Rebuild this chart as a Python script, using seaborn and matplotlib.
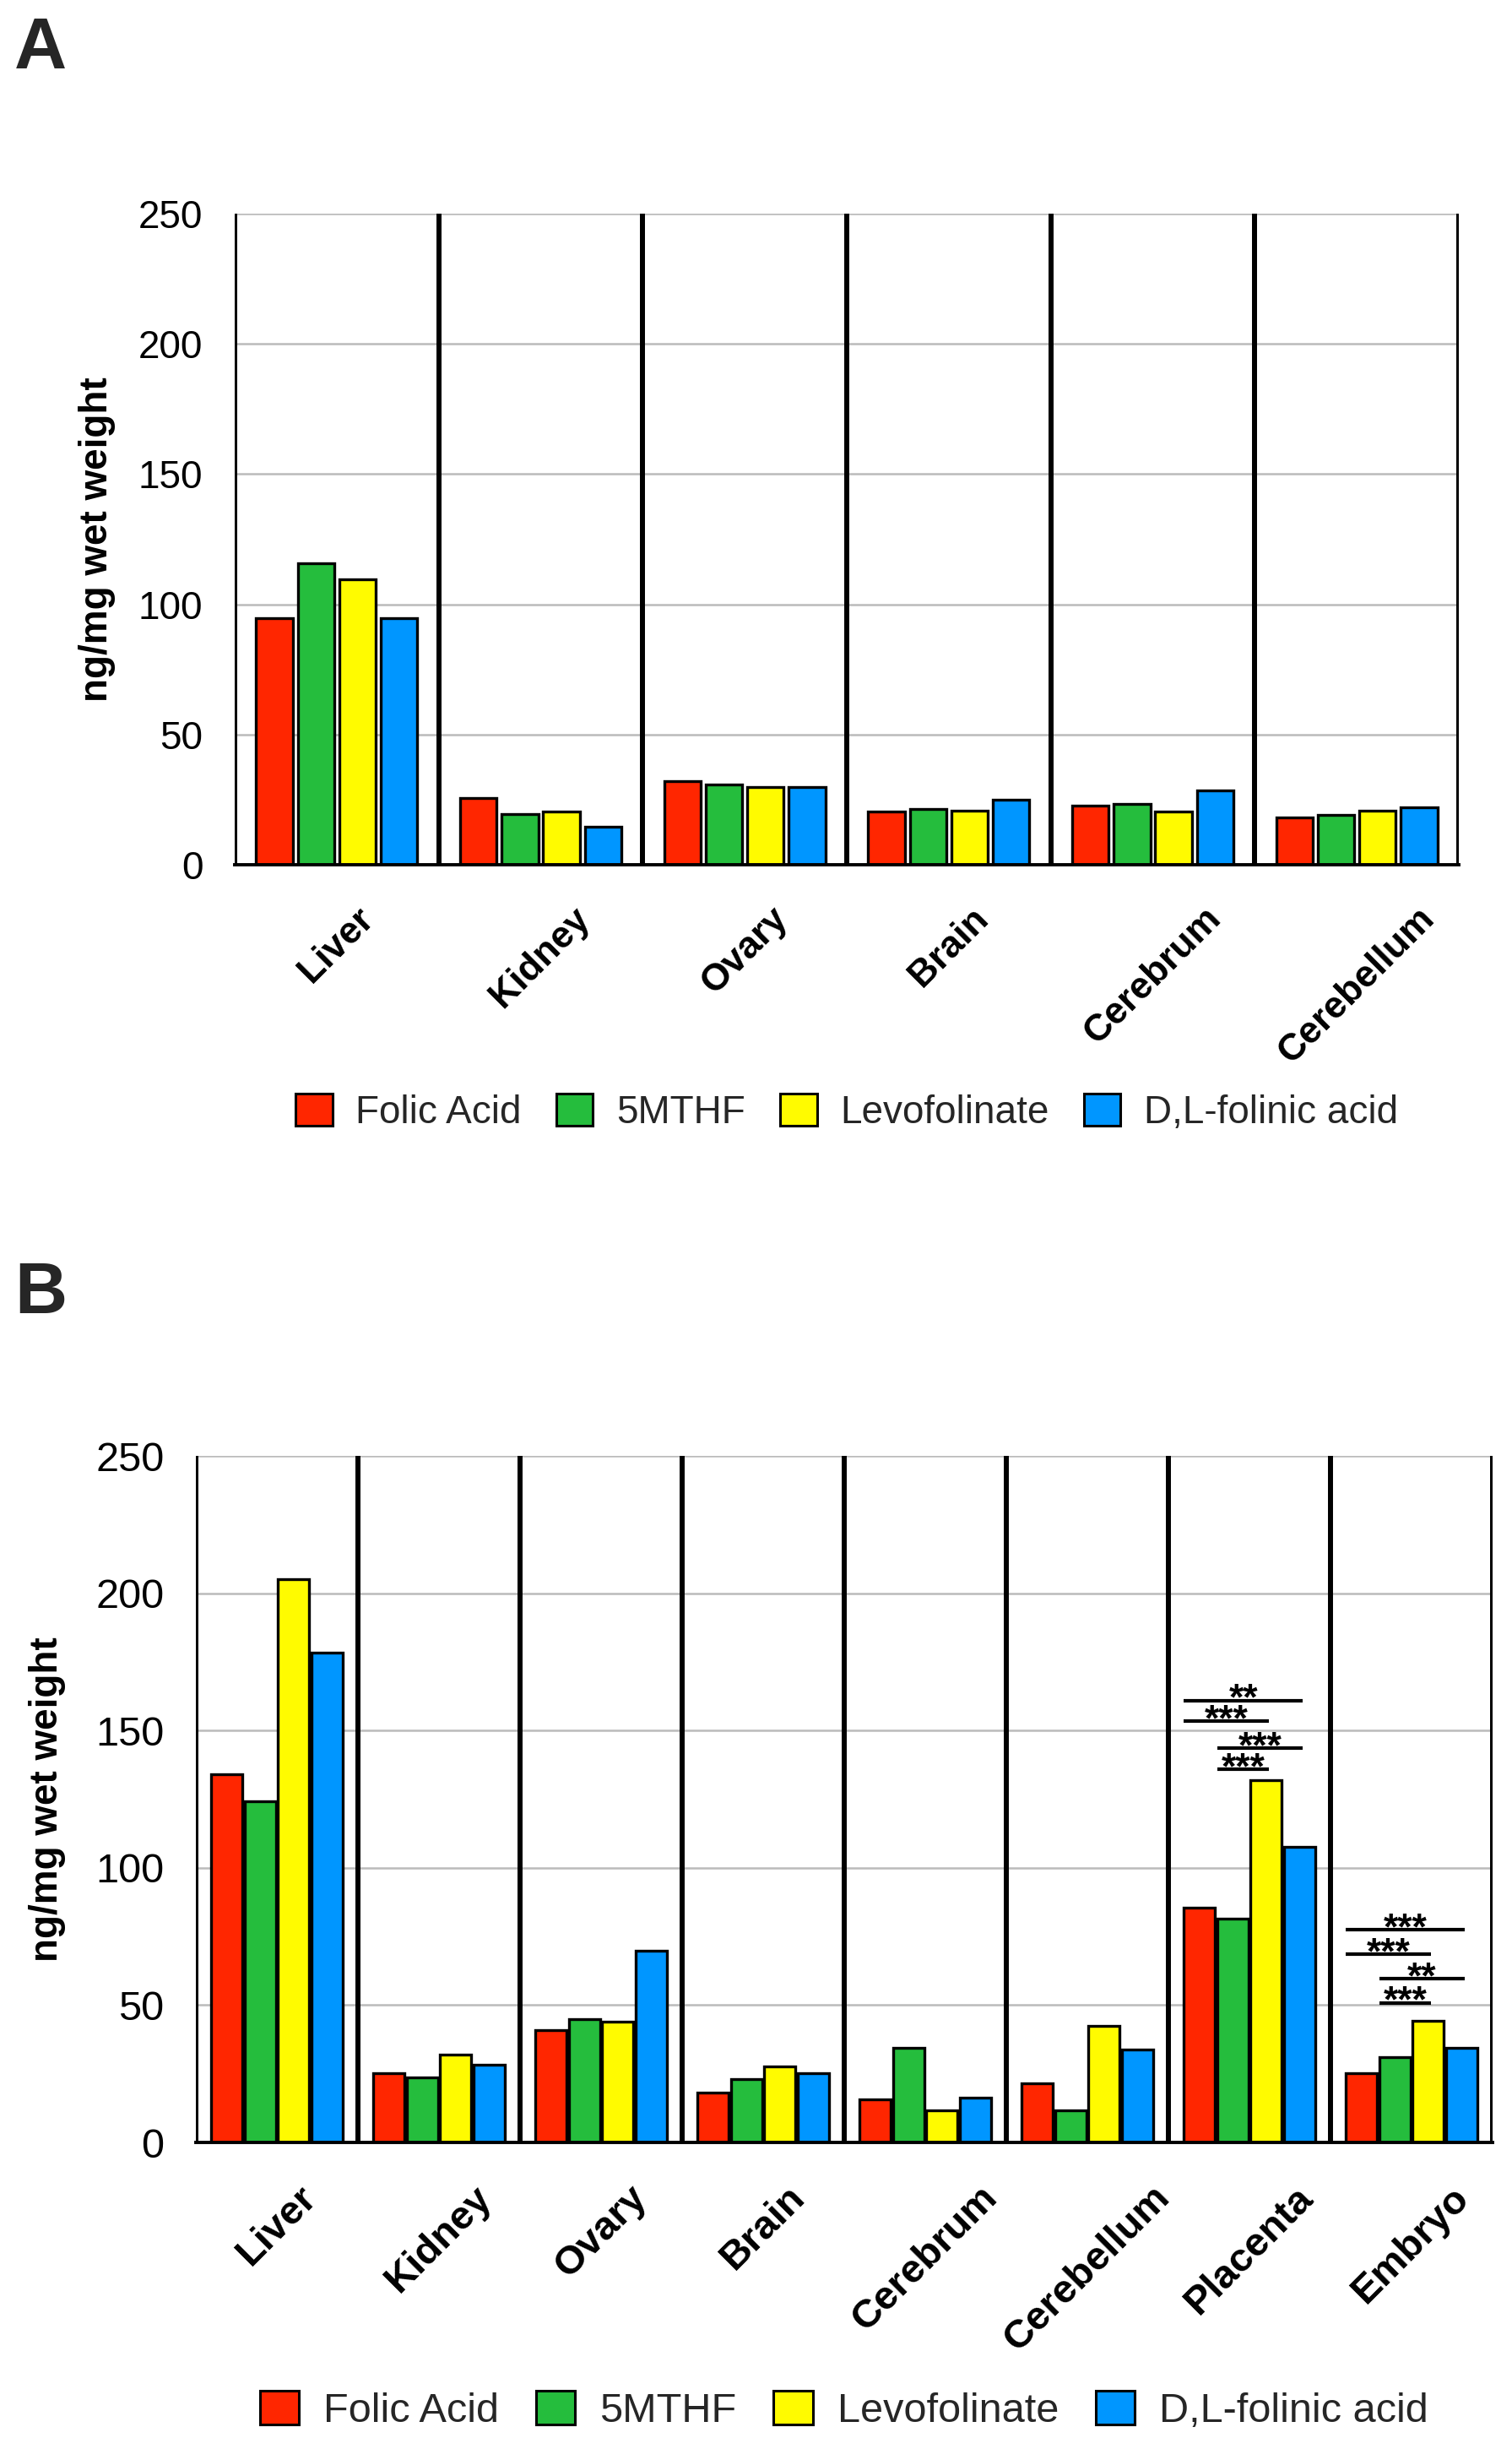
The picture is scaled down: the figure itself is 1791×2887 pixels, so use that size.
import numpy as np
import pandas as pd
import matplotlib
matplotlib.use("Agg")
import matplotlib.pyplot as plt
from matplotlib.patches import Patch
import seaborn as sns

# supplements and colours
supplements = ['Folic Acid', '5MTHF', 'Levofolinate', 'D,L-folinic acid']
colors = ['#FF2600', '#25BD3D', '#FFFB00', '#0096FF']

# panel A: non-pregnant tissues
tissues_a = ['Liver', 'Kidney', 'Ovary', 'Brain', 'Cerebrum', 'Cerebellum']
a_folic = [94.6, 25.6, 32.0, 20.3, 22.6, 18.0]
a_5mthf = [115.6, 19.5, 30.7, 21.4, 23.2, 19.1]
a_levo = [109.7, 20.3, 29.7, 20.9, 20.3, 20.9]
a_dl = [94.6, 14.6, 29.7, 24.9, 28.4, 22.0]

# panel B: pregnant tissues
tissues_b = ['Liver', 'Kidney', 'Ovary', 'Brain', 'Cerebrum', 'Cerebellum', 'Placenta', 'Embryo']
b_folic = [134.0, 25.3, 40.8, 18.3, 15.8, 21.7, 85.6, 25.3]
b_5mthf = [124.4, 23.6, 44.8, 23.1, 34.6, 11.8, 81.6, 31.0]
b_levo = [205.0, 32.0, 43.9, 27.6, 11.8, 42.5, 131.8, 44.2]
b_dl = [178.5, 28.2, 69.8, 25.3, 16.3, 34.0, 107.8, 34.6]

# significance brackets (tissue, first, second, level, stars)
sig_b = [
    ('Placenta', 'Folic Acid', 'D,L-folinic acid', 161.0, '**'),
    ('Placenta', 'Folic Acid', 'Levofolinate', 153.5, '***'),
    ('Placenta', '5MTHF', 'D,L-folinic acid', 143.5, '***'),
    ('Placenta', '5MTHF', 'Levofolinate', 136.0, '***'),
    ('Embryo', 'Folic Acid', 'D,L-folinic acid', 77.5, '***'),
    ('Embryo', 'Folic Acid', 'Levofolinate', 68.5, '***'),
    ('Embryo', '5MTHF', 'D,L-folinic acid', 59.6, '**'),
    ('Embryo', '5MTHF', 'Levofolinate', 50.9, '***'),
]


def long_table(tissues, series):
    rows = []
    for sup, vals in zip(supplements, series):
        for t, v in zip(tissues, vals):
            rows.append({'Tissue': t, 'Supplement': sup, 'Value': v})
    return pd.DataFrame(rows)


sns.set_theme(style='white')
plt.rcParams['font.family'] = ['Liberation Sans', 'DejaVu Sans']


def draw_panel(ax, tissues, series, width, gap, ysize, xsize, leg_y, leg_size, ylab_x):
    df = long_table(tissues, series)
    sns.barplot(data=df, x='Tissue', y='Value', hue='Supplement',
                order=tissues, hue_order=supplements, palette=colors,
                width=width, gap=gap, edgecolor='black', linewidth=2.4,
                saturation=1, legend=False, ax=ax, zorder=2)
    n = len(tissues)
    ax.set_xlim(-0.5, n - 0.5)
    ax.set_ylim(0, 250)
    ax.set_yticks(np.arange(0, 251, 50))
    ax.yaxis.grid(True, color='#BBBBBB', linewidth=1.8)
    ax.set_axisbelow(True)
    for side in ['top', 'right', 'left']:
        ax.spines[side].set_visible(False)
    ax.spines['bottom'].set_color('black')
    ax.spines['bottom'].set_linewidth(2.8)
    ax.spines['bottom'].set_zorder(5)
    for b in np.arange(-0.5, n, 1.0):
        ax.axvline(b, color='black', linewidth=4.3, zorder=4)
    ax.tick_params(axis='y', length=0, pad=27, labelsize=ysize, colors='black')
    ax.tick_params(axis='x', length=0, pad=31, colors='black')
    plt.setp(ax.get_xticklabels(), rotation=45, ha='center',
             fontweight='bold', fontsize=xsize)
    ax.set_xlabel('')
    ax.set_ylabel('ng/mg wet weight', fontsize=33, fontweight='bold', color='black')
    ax.yaxis.set_label_coords(ylab_x, 0.5)
    handles = [Patch(facecolor=c, edgecolor='black', linewidth=2.2) for c in colors]
    ax.legend(handles, supplements, loc='center', bbox_to_anchor=(0.5, leg_y),
              ncol=4, frameon=False, handlelength=0.95, handleheight=0.9,
              handletextpad=0.6, columnspacing=0.9, borderaxespad=0,
              fontsize=leg_size)


fig = plt.figure(figsize=(17.91, 28.87), dpi=100)
ax_a = fig.add_axes([0.1552, 0.6453, 0.8096, 0.2671])
ax_b = fig.add_axes([0.1295, 0.1212, 0.8576, 0.2816])

draw_panel(ax_a, tissues_a, [a_folic, a_5mthf, a_levo, a_dl],
           0.815, 0.12, 33, 32, -0.381, 33, -0.097)
draw_panel(ax_b, tissues_b, [b_folic, b_5mthf, b_levo, b_dl],
           0.823, 0.06, 35, 34, -0.390, 35, -0.100)

# significance brackets on panel B
slot = 0.823 / 4
offsets = {s: (i - 1.5) * slot for i, s in enumerate(supplements)}
for tissue, s1, s2, level, stars in sig_b:
    g = tissues_b.index(tissue)
    x0 = g + offsets[s1] - 0.095
    x1 = g + offsets[s2] + 0.02
    ax_b.plot([x0, x1], [level, level], color='black', linewidth=3.0,
              solid_capstyle='butt', zorder=6)
    ax_b.annotate(stars, xy=((x0 + x1) / 2, level), xytext=(0, -8),
                  textcoords='offset points', ha='center', va='baseline',
                  fontsize=32, fontweight='bold', color='black', zorder=7)

fig.text(17 / 1791, 1 - 81 / 2887, 'A', fontsize=62, fontweight='bold',
         ha='left', va='baseline')
fig.text(17 / 1791, 1 - 1555 / 2887, 'B', fontsize=62, fontweight='bold',
         ha='left', va='baseline')

fig.savefig('out.png', dpi=100)
